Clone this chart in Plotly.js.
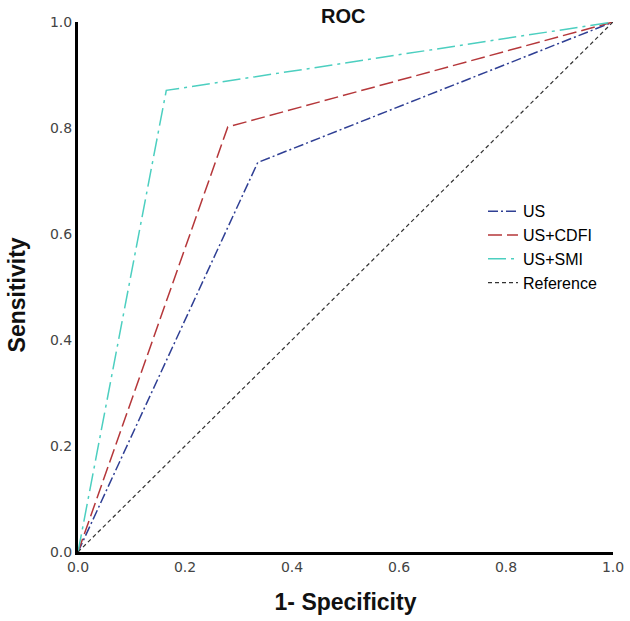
<!DOCTYPE html>
<html>
<head>
<meta charset="utf-8">
<script src="https://cdn.plot.ly/plotly-3.0.1.min.js"></script>
<style>
  body { margin: 0; background: #fff; }
  #roc { width: 630px; height: 621px; }
</style>
</head>
<body>
<div id="roc"></div>
<script>
// ROC points (1 - specificity, sensitivity)
const usX = [0, 0.336, 1];
const usY = [0, 0.735, 1];
const cdfiX = [0, 0.28, 1];
const cdfiY = [0, 0.802, 1];
const smiX = [0, 0.165, 1];
const smiY = [0, 0.871, 1];
const refX = [0, 1];
const refY = [0, 1];
const tickVals = [0, 0.2, 0.4, 0.6, 0.8, 1.0];
const tickText = ["0.0", "0.2", "0.4", "0.6", "0.8", "1.0"];

function curve(x, y, name, color, dash, width) {
  return {
    x: x, y: y, name: name, type: "scatter", mode: "lines",
    line: {color: color, dash: dash, width: width}
  };
}

let data = [
  curve(usX, usY, "US", "#2f3f94", "10px,3px,2px,3px", 1.5),
  curve(cdfiX, cdfiY, "US+CDFI", "#b5373a", "14px,5px", 1.5),
  curve(smiX, smiY, "US+SMI", "#4ccfc0", "18px,5px,3px,5px", 1.5),
  curve(refX, refY, "Reference", "#333333", "4px,3px", 1.2)
];

let axisBase = {
  range: [0, 1],
  tickvals: tickVals,
  ticktext: tickText,
  showgrid: false,
  zeroline: false,
  showline: true,
  linecolor: "#000",
  linewidth: 3,
  ticks: "",
  tickfont: {family: "DejaVu Sans", size: 14, color: "#444"}
};

let layout = {
  width: 630,
  height: 621,
  margin: {l: 78, r: 17, t: 22, b: 69},
  paper_bgcolor: "#fff",
  plot_bgcolor: "#fff",
  title: {
    text: "<b>ROC</b>",
    font: {family: "Liberation Sans", size: 20, color: "#111"},
    x: 0.545, xanchor: "center", y: 0.975, yanchor: "middle"
  },
  xaxis: Object.assign({}, axisBase, {
    title: {text: "<b>1- Specificity</b>", font: {family: "Liberation Sans", size: 23, color: "#111"}, standoff: 21}
  }),
  yaxis: Object.assign({}, axisBase),
  annotations: [{
    text: "<b>Sensitivity</b>", textangle: -90,
    xref: "paper", yref: "paper", x: -0.115, y: 0.485,
    xanchor: "center", yanchor: "middle", showarrow: false,
    font: {family: "Liberation Sans", size: 23, color: "#111"}
  }],
  legend: {
    x: 0.757, y: 0.675, xanchor: "left", yanchor: "top",
    bgcolor: "rgba(0,0,0,0)",
    font: {family: "Liberation Sans", size: 16, color: "#000"},
    itemwidth: 30,
    tracegroupgap: 0
  },
  showlegend: true
};

Plotly.newPlot("roc", data, layout, {displayModeBar: false, staticPlot: true});
</script>
</body>
</html>
